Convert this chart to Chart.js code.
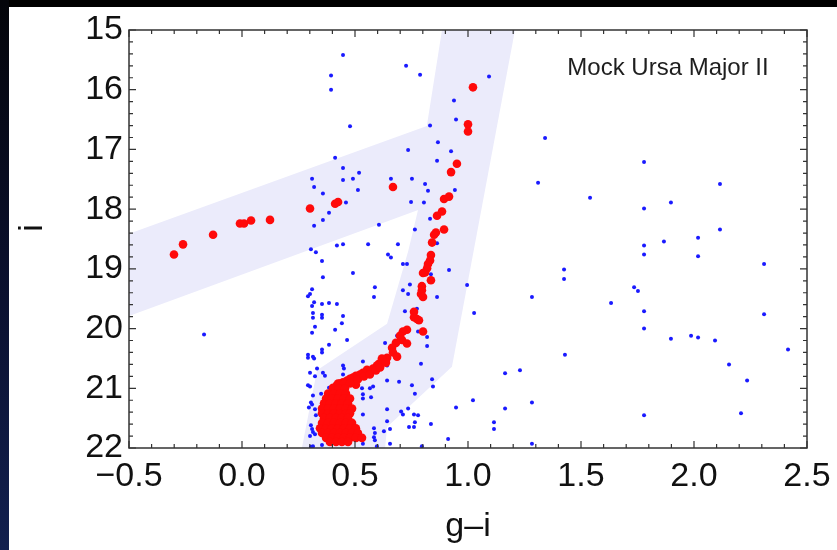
<!DOCTYPE html>
<html>
<head>
<meta charset="utf-8">
<script src="https://cdn.jsdelivr.net/npm/chart.js@4/dist/chart.umd.min.js"></script>
<style>
  html, body { margin: 0; padding: 0; background: #000; width: 837px; height: 550px; overflow: hidden; }
  #edge { position: absolute; left: 0; top: 0; width: 9px; height: 550px;
          background: linear-gradient(to bottom, #04050a, #0b1130 55%, #12204f); }
  #cmd { position: absolute; left: 9px; top: 7px; background: #fff; }
</style>
</head>
<body>
<div id="edge"></div>
<canvas id="cmd" width="828" height="543"></canvas>
<script>
// ---- data (g-i colour, i magnitude) ----
const xTicks = [-0.5, 0.0, 0.5, 1.0, 1.5, 2.0, 2.5];
const yTicks = [15, 16, 17, 18, 19, 20, 21, 22];

// selection boxes (shaded)
const hbBox = [[-0.5, 18.41], [0.876, 16.53], [0.876, 17.88], [-0.5, 19.79], [-0.5, 18.41]];
const rgbBox = [[0.885, 15], [1.208, 15], [0.929, 20.64], [0.642, 21.65], [0.633, 22], [0.265, 22],
                [0.332, 20.70], [0.642, 19.92], [0.735, 18.71], [0.779, 18.01], [0.819, 16.58], [0.885, 15]];

// field stars (blue)
const fieldStars = [
  [0.447,15.42],[0.394,15.76],[0.394,16.00],[0.726,15.60],[0.788,15.75],[1.093,15.78],[0.938,16.18],
  [0.947,16.50],[0.478,16.61],[0.832,16.60],[1.341,16.81],[0.867,16.88],[0.735,17.01],[0.925,17.03],
  [0.412,17.14],[0.863,17.19],[1.779,17.21],[0.447,17.31],[0.518,17.39],[0.310,17.49],[0.447,17.51],
  [0.491,17.49],[0.659,17.49],[0.752,17.49],[0.810,17.58],[1.310,17.56],[2.115,17.58],[0.319,17.63],
  [0.513,17.68],[0.823,17.69],[0.942,17.68],[0.358,17.74],[1.540,17.81],[0.460,17.89],[0.748,17.88],
  [0.805,17.89],[1.898,17.89],[1.779,17.99],[0.385,18.06],[0.832,18.16],[0.358,18.18],[0.319,18.28],
  [0.606,18.26],[0.765,18.34],[2.115,18.34],[2.018,18.48],[1.867,18.54],[0.863,18.57],[1.779,18.61],
  [0.305,18.67],[0.327,18.72],[0.420,18.61],[0.447,18.59],[0.558,18.59],[0.690,18.59],[1.779,18.76],
  [2.018,18.79],[0.646,18.76],[0.659,18.81],[0.354,18.87],[0.712,18.92],[0.730,18.92],[2.310,18.92],
  [0.916,19.02],[1.425,19.01],[1.425,19.17],[0.491,19.07],[0.836,19.09],[0.358,19.14],[0.743,19.26],
  [0.588,19.31],[0.584,19.47],[0.712,19.36],[0.735,19.42],[0.310,19.34],[0.301,19.42],[0.292,19.46],
  [0.996,19.27],[0.863,19.47],[1.735,19.31],[1.752,19.37],[1.283,19.47],[1.633,19.57],[0.319,19.56],
  [0.354,19.59],[0.385,19.57],[0.420,19.59],[0.721,19.71],[0.774,19.67],[1.027,19.74],[1.779,19.71],
  [2.310,19.76],[0.310,19.62],[0.314,19.74],[0.314,19.82],[0.354,19.77],[0.354,19.82],[0.447,19.79],
  [0.442,19.91],[0.323,19.97],[0.412,20.02],[0.310,20.07],[0.465,20.19],[0.385,20.27],[0.686,20.12],
  [0.779,20.05],[0.819,20.14],[0.819,20.29],[1.779,20.00],[1.898,20.17],[1.987,20.12],[2.018,20.15],
  [2.093,20.20],[2.416,20.35],[1.429,20.44],[0.633,20.24],[0.354,20.35],[0.354,20.40],[0.292,20.44],
  [0.292,20.49],[0.314,20.47],[0.319,20.50],[0.535,20.55],[0.447,20.62],[0.451,20.67],[0.642,20.62],
  [0.792,20.59],[2.155,20.60],[0.301,20.74],[0.332,20.67],[0.358,20.74],[0.367,20.79],[0.323,20.80],
  [1.164,20.75],[1.230,20.70],[0.292,20.95],[0.301,20.97],[0.385,20.99],[0.566,21.00],[0.580,20.97],
  [0.642,20.87],[0.695,20.89],[0.752,20.95],[0.841,20.85],[0.845,20.97],[2.235,20.87],[0.765,21.09],
  [0.314,21.12],[0.350,21.09],[0.535,21.10],[0.535,21.17],[0.305,21.24],[0.310,21.27],[0.296,21.32],
  [0.323,21.35],[0.947,21.32],[1.022,21.20],[1.283,21.24],[1.164,21.34],[0.642,21.35],[0.704,21.39],
  [0.712,21.44],[0.735,21.34],[0.761,21.44],[0.779,21.45],[0.535,21.44],[0.327,21.45],[1.779,21.45],
  [2.208,21.42],[0.642,21.55],[0.765,21.57],[0.761,21.65],[0.739,21.65],[0.836,21.60],[1.115,21.57],
  [1.115,21.68],[0.305,21.62],[0.310,21.68],[0.314,21.73],[0.323,21.77],[0.301,21.80],[0.584,21.67],
  [0.588,21.75],[0.584,21.82],[0.588,21.87],[0.628,21.72],[0.655,21.68],[0.912,21.85],[0.354,21.95],
  [0.314,21.97],[0.305,21.98],[0.655,21.93],[0.597,21.97],[0.796,21.97],[0.535,21.93],[1.283,21.93],
  [-0.168,20.10],[0.447,20.77],[0.531,21.00],[0.571,21.15]
];

// mock members (red)
const memberStars = [
  [-0.301,18.76],[-0.261,18.59],[-0.128,18.43],[-0.009,18.24],[0.009,18.24],[0.040,18.19],[0.124,18.18],
  [0.301,17.99],[0.412,17.91],[0.425,17.88],[0.668,17.63],
  [1.022,15.96],[1.000,16.58],[1.000,16.70],[0.951,17.24],[0.925,17.38],[0.894,17.83],[0.916,17.79],
  [0.885,18.04],[0.863,18.11],[0.894,18.34],[0.858,18.39],[0.850,18.43],[0.841,18.56],[0.836,18.77],
  [0.832,18.86],[0.823,18.92],[0.819,18.99],[0.810,19.06],[0.801,19.07],[0.836,19.19],[0.796,19.29],
  [0.796,19.36],[0.792,19.42],[0.801,19.47],[0.761,19.72],[0.761,19.81],[0.774,19.84],[0.783,19.86],
  [0.801,20.05],[0.730,20.02],[0.712,20.05],[0.699,20.12],[0.708,20.19],[0.730,20.25],[0.681,20.24],
  [0.664,20.32],[0.668,20.40],[0.686,20.47],[0.642,20.49],[0.619,20.50],[0.606,20.59],[0.597,20.62],
  [0.580,20.67],[0.566,20.72],[0.553,20.69],[0.535,20.74],[0.522,20.77],[0.504,20.79],[0.491,20.82],
  [0.478,20.84],[0.465,20.87],[0.447,20.90],[0.434,20.92],[0.420,20.95],[0.403,20.99],
  [0.487,20.90],[0.513,20.85],[0.540,20.80],[0.566,20.77],[0.593,20.70],[0.611,20.65],[0.637,20.57],[0.504,20.94],
  // turnoff clump
  [0.425,20.92],[0.451,20.92],[0.478,20.92],
  [0.403,21.00],[0.429,21.00],[0.456,21.00],
  [0.381,21.09],[0.407,21.09],[0.434,21.09],[0.460,21.09],
  [0.372,21.17],[0.398,21.17],[0.425,21.17],[0.451,21.17],[0.478,21.17],
  [0.363,21.25],[0.389,21.25],[0.416,21.25],[0.442,21.25],[0.469,21.25],
  [0.354,21.34],[0.381,21.34],[0.407,21.34],[0.434,21.34],[0.460,21.34],[0.487,21.34],
  [0.354,21.42],[0.381,21.42],[0.407,21.42],[0.434,21.42],[0.460,21.42],[0.478,21.42],
  [0.363,21.50],[0.389,21.50],[0.416,21.50],[0.442,21.50],[0.469,21.50],
  [0.354,21.58],[0.381,21.58],[0.407,21.58],[0.434,21.58],[0.460,21.58],[0.487,21.58],
  [0.345,21.67],[0.372,21.67],[0.398,21.67],[0.425,21.67],[0.451,21.67],[0.478,21.67],[0.504,21.67],
  [0.354,21.75],[0.381,21.75],[0.407,21.75],[0.434,21.75],[0.460,21.75],[0.487,21.75],[0.513,21.75],
  [0.372,21.83],[0.398,21.83],[0.425,21.83],[0.451,21.83],[0.478,21.83],[0.504,21.83],[0.531,21.83],
  [0.389,21.90],[0.416,21.90],[0.442,21.90],[0.469,21.90]
];

const FONT = "'Liberation Sans', Arial, Helvetica, sans-serif";
const toXY = (arr) => arr.map(p => ({ x: p[0], y: p[1] }));

// frame with inward ticks, label and y title
const framePlugin = {
  id: 'frame',
  afterDatasetsDraw(chart) {
    const { ctx, chartArea: a, scales: { x, y } } = chart;
    ctx.save();
    ctx.strokeStyle = '#333';
    ctx.lineWidth = 1.5;
    ctx.strokeRect(a.left, a.top, a.right - a.left, a.bottom - a.top);
    ctx.lineWidth = 1.2;
    ctx.beginPath();
    for (let k = 0; k <= 30; k++) {
      const px = x.getPixelForValue(-0.5 + k * 0.1);
      const len = k % 5 === 0 ? 7 : 4;
      ctx.moveTo(px, a.bottom); ctx.lineTo(px, a.bottom - len);
      ctx.moveTo(px, a.top); ctx.lineTo(px, a.top + len);
    }
    for (let k = 0; k <= 35; k++) {
      const py = y.getPixelForValue(15 + k * 0.2);
      const len = k % 5 === 0 ? 7 : 4;
      ctx.moveTo(a.left, py); ctx.lineTo(a.left + len, py);
      ctx.moveTo(a.right, py); ctx.lineTo(a.right - len, py);
    }
    ctx.stroke();

    ctx.fillStyle = '#1e1e1e';
    ctx.font = '24px ' + FONT;
    ctx.textAlign = 'center';
    ctx.textBaseline = 'middle';
    ctx.fillText('Mock Ursa Major II', x.getPixelForValue(1.885), y.getPixelForValue(15.65));

    ctx.fillStyle = '#111';
    ctx.font = '34px ' + FONT;
    ctx.translate(24, 221);
    ctx.rotate(-Math.PI / 2);
    ctx.fillText('i', 0, 0);
    ctx.restore();
  }
};

new Chart(document.getElementById('cmd'), {
  type: 'scatter',
  data: {
    datasets: [
      { data: toXY(memberStars), order: 0, pointRadius: 4.3, pointBackgroundColor: '#ff0a0a', pointBorderWidth: 0 },
      { data: toXY(fieldStars), order: 1, pointRadius: 2, pointBackgroundColor: '#1a1aff', pointBorderWidth: 0 },
      { data: toXY(hbBox), order: 2, showLine: true, fill: 'shape', tension: 0, pointRadius: 0,
        borderWidth: 0, borderColor: 'rgba(0,0,0,0)', backgroundColor: '#ebebfb' },
      { data: toXY(rgbBox), order: 3, showLine: true, fill: 'shape', tension: 0, pointRadius: 0,
        borderWidth: 0, borderColor: 'rgba(0,0,0,0)', backgroundColor: '#ebebfb' }
    ]
  },
  options: {
    responsive: false,
    animation: false,
    events: [],
    layout: { padding: { top: 20, right: 30, left: 0, bottom: 0 } },
    plugins: { legend: { display: false }, tooltip: { enabled: false } },
    scales: {
      x: {
        type: 'linear', min: -0.5, max: 2.5,
        afterBuildTicks: (s) => { s.ticks = xTicks.map(v => ({ value: v })); },
        afterFit: (s) => { s.height = 102; },
        grid: { display: false, drawTicks: false },
        border: { display: false },
        ticks: {
          font: { family: FONT, size: 34, lineHeight: 1.35 }, color: '#111', padding: 6,
          maxRotation: 0, autoSkip: false,
          callback: (v) => Number(v).toFixed(1).replace('-', '\u2212')
        },
        title: { display: true, text: 'g\u2013i', color: '#111', font: { family: FONT, size: 34 },
                 padding: { top: 0, bottom: 3 } }
      },
      y: {
        type: 'linear', min: 15, max: 22, reverse: true,
        afterBuildTicks: (s) => { s.ticks = yTicks.map(v => ({ value: v })); },
        afterFit: (s) => { s.width = 120; },
        grid: { display: false, drawTicks: false },
        border: { display: false },
        ticks: { font: { family: FONT, size: 34, lineHeight: 1 }, color: '#111', padding: 6, autoSkip: false }
      }
    }
  },
  plugins: [framePlugin]
});
</script>
</body>
</html>
